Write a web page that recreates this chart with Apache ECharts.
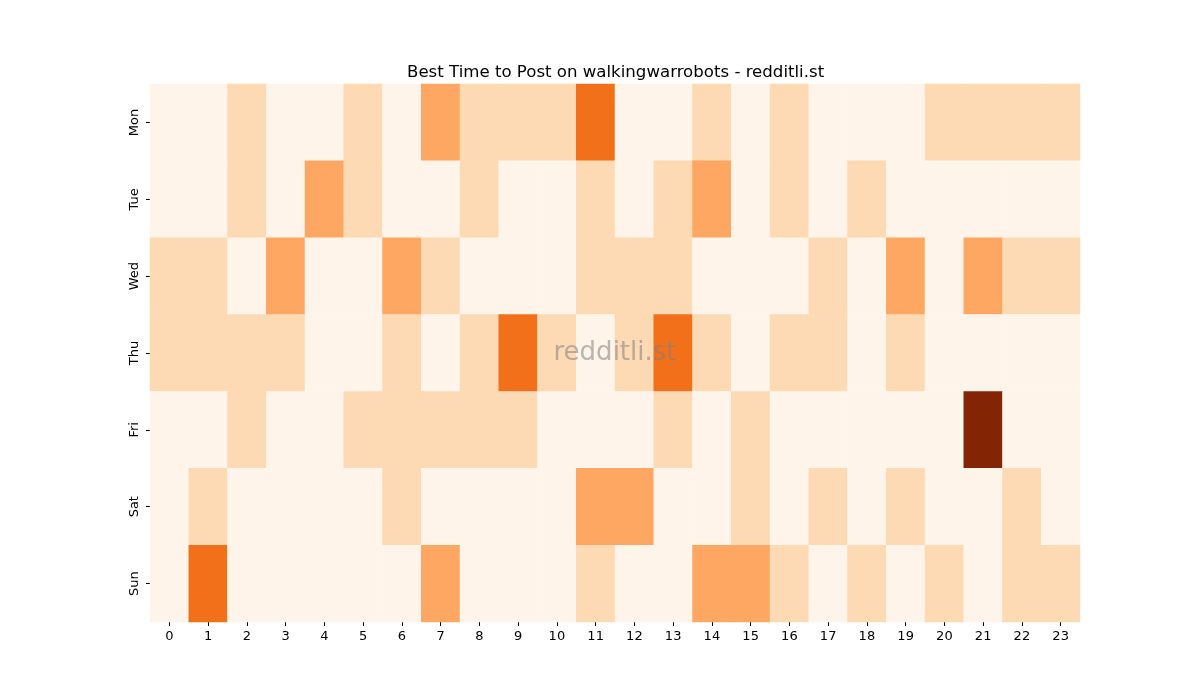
<!DOCTYPE html>
<html>
<head>
<meta charset="utf-8">
<script src="https://cdn.jsdelivr.net/npm/echarts@6/dist/echarts.min.js"></script>
<style>
    html,body{margin:0;padding:0;background:#fff;}
    #chart{width:1200px;height:700px;}
</style>
</head>
<body>
<div id="chart"></div>
<script>
    // 时段 / 星期
    var hours = ['0','1','2','3','4','5','6','7','8','9','10','11','12','13','14','15','16','17','18','19','20','21','22','23'];
    var days = ['Mon','Tue','Wed','Thu','Fri','Sat','Sun'];

    // 每天各小时的发帖数
    var monVals = [0,0,1,0,0,1,0,2,1,1,1,3,0,0,1,0,1,0,0,0,1,1,1,1];
    var tueVals = [0,0,1,0,2,1,0,0,1,0,0,1,0,1,2,0,1,0,1,0,0,0,0,0];
    var wedVals = [1,1,0,2,0,0,2,1,0,0,0,1,1,1,0,0,0,1,0,2,0,2,1,1];
    var thuVals = [1,1,1,1,0,0,1,0,1,3,1,0,1,3,1,0,1,1,0,1,0,0,0,0];
    var friVals = [0,0,1,0,0,1,1,1,1,1,0,0,0,1,0,1,0,0,0,0,0,5,0,0];
    var satVals = [0,1,0,0,0,0,1,0,0,0,0,2,2,0,0,1,0,1,0,1,0,0,1,0];
    var sunVals = [0,3,0,0,0,0,0,2,0,0,0,1,0,0,2,2,1,0,1,0,1,0,1,1];

    var rows = [monVals,tueVals,wedVals,thuVals,friVals,satVals,sunVals];
    var cells = [];
    for(var d=0;d<rows.length;d++){
        for(var h=0;h<rows[d].length;h++){
            cells.push([h,d,rows[d][h]]);
        }
    }

    var font = 'DejaVu Sans';
    var chart = echarts.init(document.getElementById('chart'));
    chart.setOption({
        animation:false,
        title:{
            text:'Best Time to Post on walkingwarrobots - redditli.st',
            left:402,
            top:59,
            textStyle:{fontFamily:font,fontSize:16.6,fontWeight:'normal',color:'#000'}
        },
        grid:{left:150,right:120,top:84,bottom:78},
        xAxis:{
            type:'category',
            data:hours,
            axisLine:{show:false},
            axisTick:{show:true,alignWithLabel:true,length:4,lineStyle:{color:'#000'}},
            axisLabel:{fontFamily:font,fontSize:13,color:'#000',margin:8},
            splitLine:{show:false}
        },
        yAxis:{
            type:'category',
            data:days,
            inverse:true,
            axisLine:{show:false},
            axisTick:{show:true,alignWithLabel:true,length:4,lineStyle:{color:'#000'}},
            axisLabel:{fontFamily:font,fontSize:13,color:'#000',rotate:90,margin:9},
            splitLine:{show:false}
        },
        visualMap:{
            show:false,
            type:'piecewise',
            dimension:2,
            pieces:[
                {value:0,color:'#fff4e9'},
                {value:1,color:'#fdd9b4'},
                {value:2,color:'#fda762'},
                {value:3,color:'#f3701b'},
                {value:4,color:'#c44103'},
                {value:5,color:'#832505'}
            ]
        },
        graphic:{
            elements:[{
                type:'text',
                x:615,
                y:353,
                z:100,
                style:{
                    text:'redditli.st',
                    font:'26px "DejaVu Sans"',
                    fill:'rgba(128,128,128,0.55)',
                    textAlign:'center',
                    textVerticalAlign:'middle'
                }
            }]
        },
        series:[{
            type:'heatmap',
            data:cells,
            itemStyle:{borderWidth:0},
            emphasis:{disabled:true}
        }]
    });
</script>
</body>
</html>
